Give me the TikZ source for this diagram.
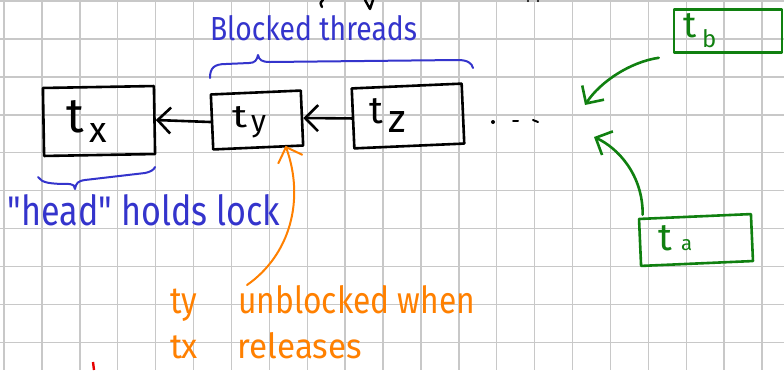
\documentclass[tikz,border=0pt]{standalone}
\usepackage{fontspec}
\setmainfont{Fira Sans}[Ligatures=TeXOff]
\usetikzlibrary{arrows.meta,calc}
\definecolor{gridgray}{RGB}{200,200,200}
\definecolor{inkblue}{RGB}{52,52,204}
\definecolor{inkorange}{RGB}{255,128,0}
\definecolor{inkgreen}{RGB}{16,128,16}
\definecolor{inkred}{RGB}{230,0,0}
% scale a piece of handwriting to a given width and height
\newcommand\inkfit[3]{\resizebox{#1}{#2}{#3}}

\begin{document}
\begin{tikzpicture}[x=1pt,y=-1pt,
  gridline/.style={draw=gridgray,line width=1.4pt},
  pen/.style={line width=2.6pt,line cap=round,line join=round},
  threadbox/.style={pen,draw,rectangle,inner sep=0pt},
  ink/.style={inner sep=0pt,outer sep=0pt,anchor=base west},
  barb/.style={-{Straight Barb[length=13pt,width=26pt]}}]

\useasboundingbox (0,0) rectangle (784,370);
\fill[white] (0,0) rectangle (784,370);

% squared paper
\foreach \i in {0,...,20} \draw[gridline] ({4+37.9*\i},0) -- ({4+37.9*\i},370);
\foreach \j in {0,...,9} \draw[gridline] (0,{1.1+37.9*\j}) -- (784,{1.1+37.9*\j});

% strokes of the line above, cut off by the page edge
\draw[pen,line width=2.4pt] (323,0) .. controls (320,3) .. (322,7);
\draw[pen,line width=2.4pt] (365,0) -- (370,9) -- (373,0);
\fill (528,1) circle (1.2);
\fill (538,1) circle (1.2);

% thread boxes
\node[threadbox,minimum width=111pt,minimum height=68pt,rotate=1] (tx) at (99,121) {};
\node[threadbox,minimum width=90pt,minimum height=55pt,rotate=2.5] (ty) at (257,120) {};
\node[threadbox,minimum width=110pt,minimum height=60pt,rotate=2.5] (tz) at (408,116) {};
\node[threadbox,draw=inkgreen,minimum width=108pt,minimum height=43pt] (tb) at (728,31) {};
\node[threadbox,draw=inkgreen,minimum width=112pt,minimum height=47pt,rotate=2.5] (ta) at (696,240) {};

% box labels
\node[ink] (txt) at (66,132) {\inkfit{!}{32pt}{t}};
\node[ink] (txs) at (89,142) {\inkfit{!}{19pt}{x}};
\node[ink] (tyt) at (232,127) {\inkfit{15pt}{21pt}{t}};
\node[ink] (tys) at (251,131) {\inkfit{!}{16pt}{y}};
\node[ink] (tzt) at (369,123) {\inkfit{!}{25pt}{t}};
\node[ink] (tzs) at (388,132) {\inkfit{!}{21pt}{z}};
\node[ink,text=inkgreen] (tbt) at (683,37) {\inkfit{!}{24pt}{t}};
\node[ink,text=inkgreen] (tbs) at (702,47) {\inkfit{!}{18pt}{b}};
\node[ink,text=inkgreen] (tat) at (658,250) {\inkfit{!}{25pt}{t}};
\node[ink,text=inkgreen] (tas) at (681,250) {\inkfit{!}{11pt}{a}};

% queue links
\draw[pen,barb] (ty.west) -- (tx.east);
\draw[pen,barb] (tz.west) -- (ty.east);

% more threads
\node[ink] (more) at (490,124) {};
\fill (493,122) circle (2);
\draw[pen,line width=2pt] (513,121) -- (518,121);
\draw[pen,line width=2pt] (533,120) -- (538,122);

% newcomers joining the queue
\coordinate (tipb) at (585,105);
\coordinate (tipa) at (594,137);
\draw[pen,barb,draw=inkgreen] ($(tb.south west)+(-14,4)$) .. controls (630,62) and (600,82) .. (tipb);
\draw[pen,barb,draw=inkgreen] ($(ta.north west)+(5,-3)$) .. controls (643,175) and (618,148) .. (tipa);

% braces and notes
\draw[pen,draw=inkblue,line width=2pt] (210,78) .. controls (210,68) and (214,64) .. (226,64) -- (249,63)
  .. controls (255,63) and (257,60) .. (258,55) .. controls (259,60) and (262,62) .. (270,62)
  -- (458,60) .. controls (467,60) and (472,63) .. (473,68);
\node[ink,text=inkblue] (blocked) at (210,40) {\inkfit{207pt}{25pt}{Blocked threads}};

\draw[pen,draw=inkblue,line width=2pt] (38,177) .. controls (42,183) and (50,184) .. (70,184)
  .. controls (73,184) and (75,186) .. (75,189) .. controls (76,183) and (78,181) .. (85,180)
  -- (145,173) .. controls (150,172) and (154,170) .. (155,167);
\node[ink,text=inkblue] (head) at (8,225) {\inkfit{272pt}{31pt}{"head" holds lock}};

\coordinate (orstart) at (247,285);
\draw[pen,line width=2pt,barb,draw=inkorange] (orstart) .. controls (290,255) and (305,200) .. ($(ty.south east)+(-19,-1)$);
\node[ink,text=inkorange] (why) at (170,313) {\inkfit{305pt}{28pt}{\fontsize{30}{30}\selectfont ty\hspace{1.3em}unblocked when}};
\node[ink,text=inkorange] (whyb) at (170,358) {\inkfit{192pt}{26pt}{\fontsize{30}{30}\selectfont tx\hspace{1.2em}releases}};

% stray pen mark
\draw[draw=inkred,line width=2.4pt] (93,362) -- (94,370);
\end{tikzpicture}
\end{document}
